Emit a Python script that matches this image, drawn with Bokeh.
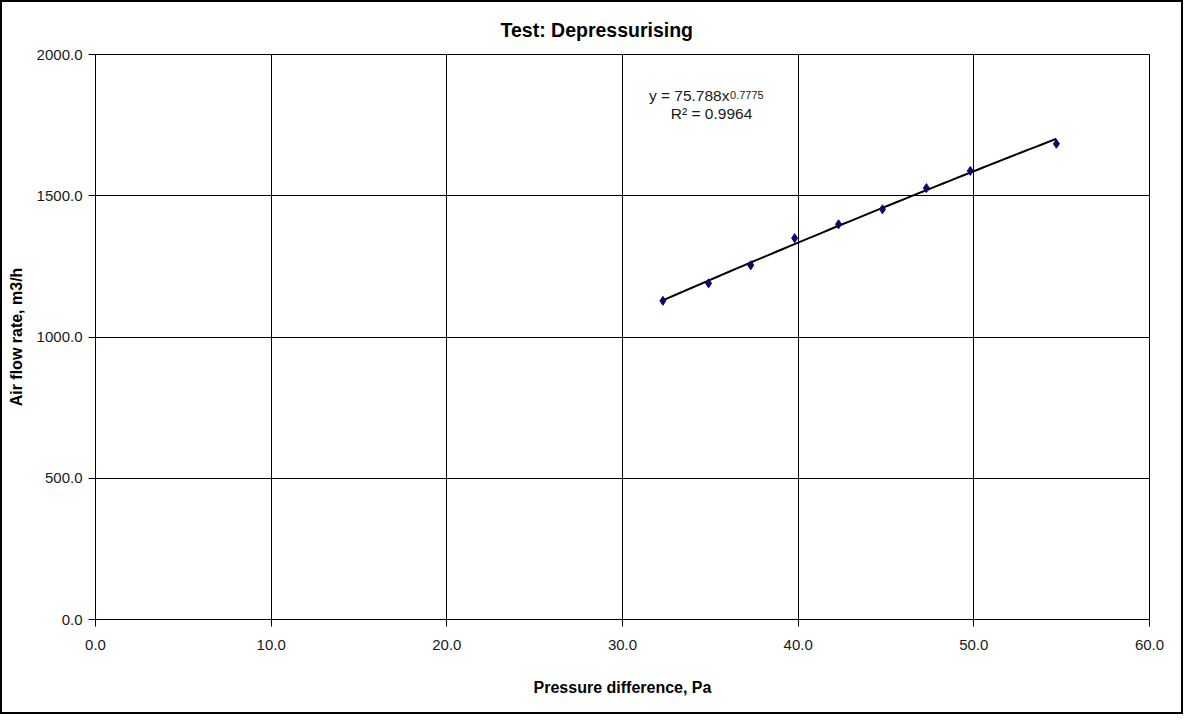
import numpy as np
from bokeh.plotting import figure
from bokeh.models import FixedTicker, NumeralTickFormatter, Label, Range1d, Title
from bokeh.embed import file_html
from bokeh.resources import INLINE

# Data
pressure_pa = [32.3, 34.9, 37.3, 39.8, 42.3, 44.8, 47.3, 49.8, 54.7]
airflow_m3h = [1128, 1190, 1254, 1350, 1399, 1452, 1527, 1588, 1684]
fit_coef = 75.788
fit_exp = 0.7775
r_squared = 0.9964
x_ticks = [0, 10, 20, 30, 40, 50, 60]
y_ticks = [0, 500, 1000, 1500, 2000]
title_text = "Test: Depressurising"

FONT = "Liberation Sans"

p = figure(width=1183, height=714, output_backend="svg", toolbar_location=None,
           x_range=Range1d(0, 60), y_range=Range1d(0, 2000),
           min_border_left=93, min_border_right=36, min_border_top=52, min_border_bottom=97)
p.styles = {"border": "2px solid black"}
p.background_fill_color = "white"
p.border_fill_color = "white"
p.outline_line_color = "black"

t = Title(text=title_text, align="left", offset=405, standoff=28,
          text_font=FONT, text_font_size="19.5px", text_font_style="bold",
          text_color="black")
p.add_layout(t, "above")

for ax in (p.xaxis, p.yaxis):
    ax.axis_line_color = "black"
    ax.major_tick_line_color = "black"
    ax.minor_tick_line_color = None
    ax.major_tick_in = 0
    ax.major_tick_out = 7
    ax.major_label_text_font = FONT
    ax.major_label_text_font_size = "15px"
    ax.major_label_text_color = "#1a1a1a"
    ax.formatter = NumeralTickFormatter(format="0.0")
    ax.axis_label_text_font = FONT
    ax.axis_label_text_font_size = "16px"
    ax.axis_label_text_font_style = "bold"
    ax.axis_label_text_color = "black"

p.xaxis.ticker = FixedTicker(ticks=x_ticks)
p.yaxis.ticker = FixedTicker(ticks=y_ticks)
p.xaxis.axis_label = "Pressure difference, Pa"
p.yaxis.axis_label = "Air flow rate, m3/h"
p.xaxis.major_label_standoff = 13
p.yaxis.major_label_standoff = 6
p.xaxis.axis_label_standoff = 26
p.yaxis.axis_label_standoff = 9

p.xgrid.grid_line_color = "black"
p.ygrid.grid_line_color = "black"
p.xgrid.grid_line_alpha = 1
p.ygrid.grid_line_alpha = 1

# Power-law trendline from the displayed coefficients
xf = np.linspace(min(pressure_pa), max(pressure_pa), 60)
yf = fit_coef * xf ** fit_exp
p.line(xf, yf, line_color="black", line_width=2)

p.scatter(pressure_pa, airflow_m3h, marker="diamond", size=9,
          fill_color="#0a0a6e", line_color="#0a0a6e")

eq1 = Label(x=36.09, y=1855, text="y = 75.788x", text_align="right",
            text_baseline="alphabetic", text_font=FONT, text_font_size="15.5px",
            text_color="#1a1a1a")
eq_sup = Label(x=36.12, y=1855, text=f"{fit_exp}", text_align="left",
               text_baseline="alphabetic", text_font=FONT, text_font_size="11px",
               text_color="#1a1a1a")
eq2 = Label(x=35.07, y=1791, text=f"R\u00b2 = {r_squared}", text_align="center",
            text_baseline="alphabetic", text_font=FONT, text_font_size="15.5px",
            text_color="#1a1a1a")
for lb in (eq1, eq_sup, eq2):
    p.add_layout(lb)

open("out.html", "w").write(file_html(p, INLINE))
